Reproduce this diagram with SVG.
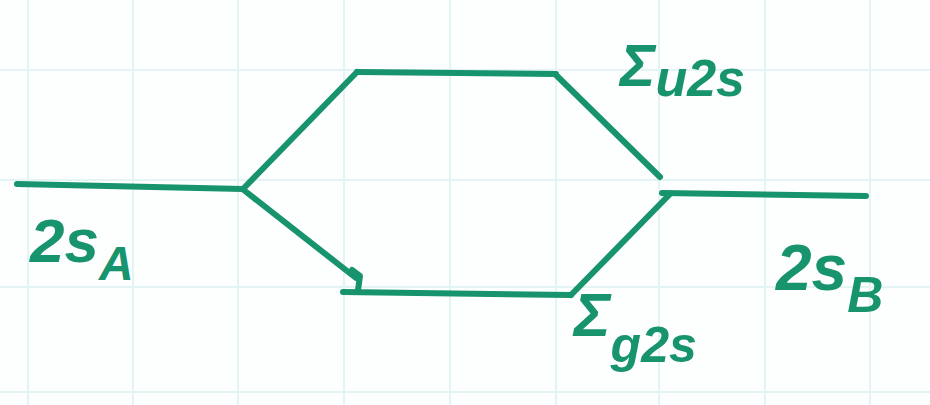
<svg xmlns="http://www.w3.org/2000/svg" width="930" height="405" viewBox="0 0 930 405">
<defs>
<style>
.grid{stroke:#e4f3f3;stroke-width:2;fill:none}
.ln{stroke:#17936d;stroke-width:6;stroke-linecap:round;stroke-linejoin:round;fill:none}
.lbl{font-family:"Liberation Sans",Arial,sans-serif;font-style:italic;fill:#17936d;font-weight:bold}
</style>
</defs>
<rect width="930" height="405" fill="#fdfefe"/>
<g id="grid" class="grid">
<path d="M28 0V405M133 0V405M238 0V405M344 0V405M450 0V405M556 0V405M659 0V405M765 0V405M870 0V405"/>
<path d="M0 70H930M0 180H930M0 287H930M0 392H930"/>
</g>
<g id="connectors">
<path class="ln" d="M243 189L357 72"/>
<path class="ln" d="M245 191L356 278"/>
<path class="ln" d="M556 75L660 177"/>
<path class="ln" d="M670 194L571 295"/>
</g>
<g id="level-2sA">
<path class="ln" d="M17 184L243 189"/>
<text class="lbl" x="30" y="262" font-size="62">2s<tspan font-size="48" dy="18">A</tspan></text>
</g>
<g id="level-sigma-u">
<path class="ln" d="M357 72L556 74"/>
<text class="lbl" x="620" y="86" font-size="60">Σ<tspan font-size="52" dy="10">u2s</tspan></text>
</g>
<g id="level-sigma-g">
<path class="ln" d="M343 292L571 295"/>
<path class="ln" d="M352 270L360 276L358 290"/>
<text class="lbl" x="574" y="336" font-size="62">Σ<tspan font-size="50" dy="26">g2s</tspan></text>
</g>
<g id="level-2sB">
<path class="ln" d="M662 193L866 196"/>
<text class="lbl" x="776" y="290" font-size="64">2s<tspan font-size="50" dy="22">B</tspan></text>
</g>
</svg>
